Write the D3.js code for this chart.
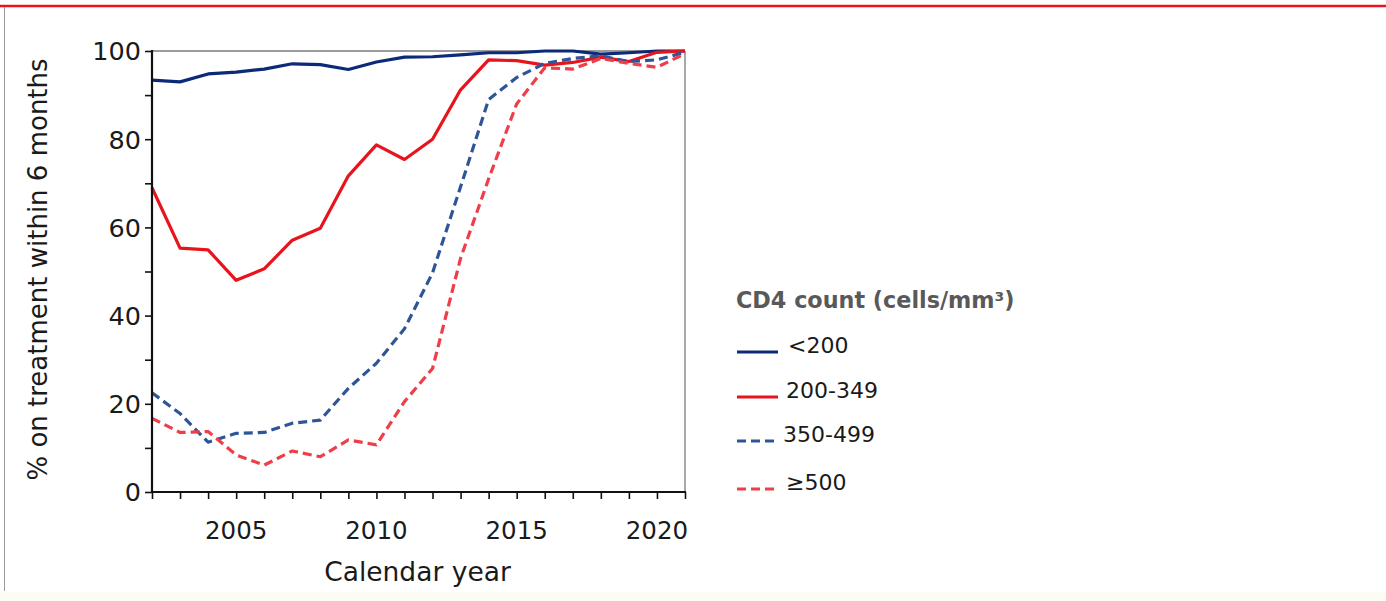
<!DOCTYPE html>
<html><head><meta charset="utf-8">
<script src="https://cdn.jsdelivr.net/npm/d3@7/dist/d3.min.js"></script>
<style>
html,body{margin:0;padding:0;background:#fff;}
svg{display:block;}
text{font-family:"DejaVu Sans",Verdana,sans-serif;}
</style></head>
<body><svg id="c" width="1386" height="601"></svg>
<script>
const years = d3.range(2002, 2022);
const seriesNames = ["<200", "200-349", "350-499", "\u2265500"];
const valsLt200 = [93.4, 93.0, 94.8, 95.2, 95.9, 97.1, 96.9, 95.8, 97.5, 98.6, 98.7, 99.1, 99.6, 99.6, 100, 100, 99.3, 99.6, 100, 100];
const vals200_349 = [69.0, 55.3, 54.9, 48.0, 50.6, 57.1, 59.8, 71.7, 78.7, 75.4, 80.0, 91.2, 98.0, 97.8, 96.8, 97.4, 98.6, 97.6, 99.7, 100];
const vals350_499 = [22.5, 17.8, 11.3, 13.3, 13.5, 15.6, 16.3, 23.5, 29.2, 37.0, 49.7, 69.2, 89.0, 94.0, 97.2, 98.3, 98.9, 97.6, 98.0, 99.7];
const valsGe500 = [16.7, 13.5, 13.7, 8.4, 6.1, 9.3, 8.0, 11.8, 10.7, 20.5, 28.0, 53.0, 71.0, 88.0, 96.2, 95.9, 98.3, 97.2, 96.3, 99.4];
const xTickLabels = [2005, 2010, 2015, 2020];
const yTickLabels = [0, 20, 40, 60, 80, 100];
const yMinorTicks = [10, 30, 50, 70, 90];

const styles = [
  {color:"#0b2a78", dash:null},
  {color:"#e8141c", dash:null},
  {color:"#2e5597", dash:"9,5"},
  {color:"#ef3e4a", dash:"9,5"}
];
const allVals = [valsLt200, vals200_349, vals350_499, valsGe500];

const svg = d3.select("#c");
// page frame
svg.append("line").attr("x1",0).attr("x2",1386).attr("y1",6).attr("y2",6).attr("stroke","#e8141c").attr("stroke-width",2.5);
svg.append("line").attr("x1",4.5).attr("x2",4.5).attr("y1",7).attr("y2",591).attr("stroke","#9a9a9a").attr("stroke-width",1);
svg.append("rect").attr("x",0).attr("y",592).attr("width",1386).attr("height",9).attr("fill","#fdfcf4");

const L=152, R=685, T=51, B=492;
const x = d3.scaleLinear().domain([2002,2021]).range([L,R]);
const y = d3.scaleLinear().domain([0,100]).range([B,T]);

// frame top/right
svg.append("line").attr("x1",L).attr("x2",R).attr("y1",T).attr("y2",T).attr("stroke","#7a7a7a").attr("stroke-width",1.3);
svg.append("line").attr("x1",R).attr("x2",R).attr("y1",T).attr("y2",B).attr("stroke","#7a7a7a").attr("stroke-width",1.3);

// lines
const line = d3.line().x((d,i)=>x(years[i])).y(d=>y(d));
allVals.forEach((v,k)=>{
  svg.append("path").datum(v).attr("d",line).attr("fill","none")
    .attr("stroke",styles[k].color).attr("stroke-width",3.2)
    .attr("stroke-dasharray",styles[k].dash).attr("stroke-linejoin","round");
});

// x axis
const xAxis = d3.axisBottom(x).tickValues(years).tickSize(7).tickFormat("");
const gx = svg.append("g").attr("transform",`translate(0,${B})`).call(xAxis);
gx.select(".domain").attr("stroke","#111").attr("stroke-width",2.2).attr("d",`M${L-1},0H${R+1}`);
gx.selectAll(".tick line").attr("stroke","#111").attr("stroke-width",1.6);
svg.append("g").selectAll("text").data(xTickLabels).join("text")
  .attr("x",d=>x(d)).attr("y",539).attr("text-anchor","middle")
  .attr("font-size",24.5).attr("fill","#1a1a1a").text(d=>d);

// y axis
const yAxis = d3.axisLeft(y).tickValues(yTickLabels.concat(yMinorTicks)).tickSize(7).tickFormat("");
const gy = svg.append("g").attr("transform",`translate(${L},0)`).call(yAxis);
gy.select(".domain").attr("stroke","#111").attr("stroke-width",2.2).attr("d",`M0,${T-1}V${B+1}`);
gy.selectAll(".tick line").attr("stroke","#111").attr("stroke-width",1.6);
svg.append("g").selectAll("text").data(yTickLabels).join("text")
  .attr("x",L-11).attr("y",d=>y(d)).attr("dy","0.37em").attr("text-anchor","end")
  .attr("font-size",25.5).attr("fill","#1a1a1a").text(d=>d);

// axis titles
svg.append("text").attr("x",(L+R)/2-1).attr("y",581).attr("text-anchor","middle")
  .attr("font-size",26.5).attr("fill","#1a1a1a").text("Calendar year");
svg.append("text").attr("transform",`translate(47,${(T+B)/2-2}) rotate(-90)`).attr("text-anchor","middle")
  .attr("font-size",26).attr("fill","#1a1a1a").text("% on treatment within 6 months");

// legend
svg.append("text").attr("x",736).attr("y",308).attr("font-size",22.3).attr("font-weight","bold")
  .attr("fill","#595959").text("CD4 count (cells/mm\u00b3)");
const legY = [352, 397, 441, 489];
const legTextX = [788, 786, 783, 786];
seriesNames.forEach((n,k)=>{
  svg.append("line").attr("x1",737).attr("x2",778).attr("y1",legY[k]).attr("y2",legY[k])
    .attr("stroke",styles[k].color).attr("stroke-width",3).attr("stroke-dasharray",styles[k].dash);
  svg.append("text").attr("x",legTextX[k]).attr("y",legY[k]+1).attr("font-size",22)
    .attr("fill","#1a1a1a").text(n);
});
</script></body></html>
